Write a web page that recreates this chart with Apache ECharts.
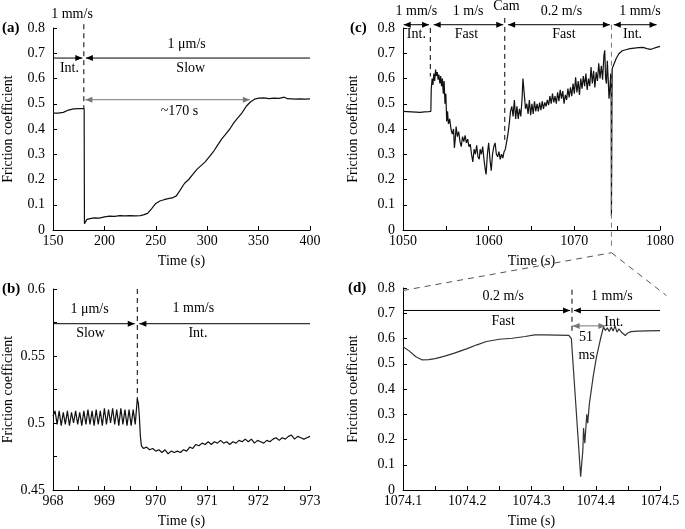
<!DOCTYPE html>
<html><head><meta charset="utf-8">
<script src="https://cdn.jsdelivr.net/npm/echarts@6/dist/echarts.min.js"></script>
<style>html,body{margin:0;padding:0;background:#fff}#c{width:685px;height:529px}</style>
</head><body><div id="c"></div>
<script>
// ---------- data ----------
const aTime  = [150,155,160,165,170,175,180.3,180.6,181,183,186,190,195,200,205,210,215,220,225,230,235,238,242,246,250,254,258,262,266,270,274,278,282,286,290,294,298,302,306,310,314,318,322,326,330,334,338,342,346,350,355,360,365,370,375,378,382,386,390,395,400];
const aValue = [0.463,0.463,0.466,0.475,0.480,0.481,0.481,0.025,0.028,0.042,0.045,0.048,0.047,0.052,0.055,0.054,0.057,0.056,0.057,0.056,0.057,0.060,0.066,0.085,0.105,0.115,0.120,0.124,0.127,0.135,0.160,0.185,0.200,0.220,0.240,0.255,0.270,0.290,0.310,0.335,0.360,0.380,0.400,0.425,0.445,0.465,0.490,0.507,0.518,0.522,0.523,0.520,0.522,0.521,0.526,0.520,0.519,0.518,0.519,0.518,0.519];

const bTime  = [968.00,968.04,968.08,968.12,968.16,968.20,968.24,968.28,968.32,968.36,968.40,968.44,968.48,968.52,968.56,968.60,968.64,968.68,968.72,968.76,968.80,968.84,968.88,968.92,968.96,969.00,969.04,969.08,969.12,969.16,969.20,969.24,969.28,969.32,969.36,969.40,969.44,969.48,969.52,969.56,969.60,969.64,969.66,969.68,969.70,969.72,969.76,969.82,969.88,969.94,970.00,970.06,970.12,970.18,970.24,970.30,970.36,970.42,970.48,970.54,970.60,970.66,970.72,970.78,970.84,970.90,970.96,971.02,971.08,971.14,971.20,971.26,971.32,971.38,971.44,971.50,971.56,971.62,971.68,971.74,971.80,971.86,971.92,971.98,972.04,972.10,972.16,972.22,972.28,972.34,972.40,972.46,972.52,972.58,972.64,972.70,972.76,972.82,972.88,972.94,973.00];
const bValue = [0.505,0.509,0.499,0.509,0.498,0.508,0.499,0.509,0.498,0.508,0.500,0.509,0.499,0.508,0.498,0.509,0.499,0.510,0.499,0.509,0.498,0.510,0.499,0.509,0.498,0.511,0.499,0.510,0.500,0.511,0.499,0.510,0.498,0.511,0.499,0.510,0.498,0.510,0.498,0.510,0.499,0.518,0.515,0.505,0.490,0.483,0.481,0.482,0.480,0.481,0.479,0.480,0.478,0.480,0.477,0.479,0.478,0.479,0.478,0.480,0.479,0.482,0.481,0.484,0.483,0.485,0.484,0.486,0.484,0.486,0.485,0.487,0.485,0.486,0.484,0.486,0.485,0.487,0.486,0.488,0.486,0.488,0.485,0.487,0.486,0.485,0.487,0.486,0.488,0.489,0.487,0.489,0.488,0.490,0.491,0.488,0.490,0.489,0.488,0.489,0.490];

const cTime  = [1050.0,1050.5,1051.0,1051.5,1052.0,1052.5,1053.0,1053.25,1053.3,1053.4,1053.5,1053.6,1053.7,1053.8,1053.9,1054.0,1054.1,1054.2,1054.3,1054.4,1054.5,1054.6,1054.7,1054.8,1054.9,1055.0,1055.1,1055.2,1055.3,1055.45,1055.6,1055.75,1055.9,1056.0,1056.1,1056.2,1056.35,1056.5,1056.65,1056.8,1056.95,1057.1,1057.25,1057.4,1057.55,1057.7,1057.85,1058.0,1058.15,1058.3,1058.45,1058.6,1058.75,1058.9,1059.0,1059.15,1059.3,1059.45,1059.6,1059.7,1059.85,1060.0,1060.15,1060.3,1060.45,1060.6,1060.75,1060.9,1061.05,1061.2,1061.35,1061.5,1061.65,1061.8,1061.95,1062.1,1062.25,1062.4,1062.55,1062.7,1062.85,1063.0,1063.15,1063.3,1063.45,1063.6,1063.75,1063.9,1064.0,1064.15,1064.3,1064.45,1064.6,1064.75,1064.9,1065.05,1065.2,1065.35,1065.5,1065.65,1065.8,1065.95,1066.1,1066.25,1066.4,1066.55,1066.7,1066.85,1067.0,1067.15,1067.3,1067.45,1067.6,1067.75,1067.9,1068.05,1068.2,1068.35,1068.5,1068.65,1068.8,1068.95,1069.1,1069.25,1069.4,1069.55,1069.7,1069.85,1070.0,1070.15,1070.3,1070.45,1070.6,1070.75,1070.9,1071.05,1071.2,1071.35,1071.5,1071.65,1071.8,1071.95,1072.1,1072.25,1072.4,1072.55,1072.7,1072.85,1073.0,1073.15,1073.3,1073.45,1073.55,1073.65,1073.75,1073.85,1073.95,1074.05,1074.15,1074.25,1074.3,1074.33,1074.36,1074.39,1074.42,1074.6,1074.9,1075.2,1075.6,1076.0,1076.5,1077.0,1077.5,1078.0,1078.3,1078.6,1078.9,1079.2,1079.5,1079.8,1080.0];
const cValue = [0.470,0.469,0.468,0.467,0.466,0.468,0.469,0.470,0.560,0.600,0.575,0.620,0.590,0.635,0.610,0.625,0.595,0.615,0.580,0.610,0.570,0.600,0.540,0.590,0.500,0.540,0.430,0.470,0.420,0.440,0.400,0.380,0.400,0.325,0.360,0.410,0.370,0.390,0.350,0.330,0.370,0.350,0.375,0.345,0.360,0.330,0.340,0.300,0.270,0.320,0.300,0.335,0.290,0.280,0.320,0.300,0.330,0.280,0.240,0.220,0.300,0.345,0.280,0.235,0.300,0.330,0.345,0.300,0.290,0.310,0.280,0.300,0.285,0.310,0.320,0.350,0.380,0.420,0.470,0.490,0.450,0.515,0.440,0.490,0.440,0.480,0.450,0.520,0.600,0.540,0.480,0.500,0.460,0.515,0.455,0.500,0.460,0.510,0.470,0.500,0.470,0.505,0.475,0.510,0.480,0.505,0.490,0.515,0.495,0.530,0.500,0.540,0.505,0.530,0.500,0.545,0.510,0.555,0.520,0.550,0.500,0.535,0.515,0.560,0.525,0.565,0.530,0.580,0.540,0.605,0.545,0.590,0.535,0.600,0.560,0.610,0.570,0.620,0.555,0.600,0.570,0.645,0.580,0.630,0.565,0.625,0.590,0.660,0.600,0.650,0.595,0.690,0.712,0.600,0.580,0.670,0.600,0.520,0.560,0.620,0.515,0.055,0.250,0.500,0.640,0.640,0.680,0.698,0.710,0.714,0.718,0.720,0.722,0.723,0.720,0.717,0.715,0.719,0.722,0.725,0.727];

const dTime  = [1074.100,1074.110,1074.120,1074.130,1074.140,1074.150,1074.165,1074.180,1074.200,1074.215,1074.230,1074.250,1074.270,1074.290,1074.305,1074.320,1074.340,1074.358,1074.362,1074.370,1074.3765,1074.380,1074.381,1074.383,1074.386,1074.3875,1074.390,1074.396,1074.401,1074.407,1074.412,1074.415,1074.418,1074.421,1074.424,1074.427,1074.430,1074.433,1074.436,1074.440,1074.443,1074.446,1074.450,1074.455,1074.465,1074.480,1074.500];
const dValue = [0.567,0.550,0.528,0.515,0.516,0.520,0.530,0.542,0.560,0.575,0.588,0.597,0.601,0.608,0.614,0.614,0.613,0.612,0.600,0.300,0.053,0.160,0.245,0.185,0.300,0.265,0.340,0.449,0.525,0.594,0.645,0.632,0.642,0.628,0.645,0.630,0.650,0.625,0.638,0.625,0.626,0.612,0.622,0.627,0.629,0.630,0.631];

// annotation texts: [panel, text, x, y]
const notes = [
  [0,"1 mm/s",168.5,0.853],[0,"Int.",166,0.641],[0,"1 μm/s",280,0.734],[0,"Slow",284,0.641],[0,"~170 s",273,0.469],
  [1,"1 μm/s",968.71,0.5845],[1,"Slow",968.73,0.5666],[1,"1 mm/s",970.73,0.5858],[1,"Int.",970.82,0.5666],
  [2,"1 mm/s",1051.56,0.866],[2,"1 m/s",1057.6,0.866],[2,"Cam",1062.08,0.886],[2,"0.2 m/s",1068.5,0.866],[2,"1 mm/s",1077.66,0.866],
  [2,"Int.",1051.56,0.774],[2,"Fast",1057.4,0.774],[2,"Fast",1068.78,0.774],[2,"Int.",1076.8,0.774],
  [3,"0.2 m/s",1074.256,0.767],[3,"Fast",1074.256,0.668],[3,"1 mm/s",1074.425,0.767],[3,"Int.",1074.428,0.664],[3,"51",1074.385,0.606],[3,"ms",1074.386,0.532]
];
// arrows: [panel, xFrom, xTo, y, heads, color]
const arrows = [
  [0,150,178.5,0.681,"end","#000"],[0,400,182,0.681,"end","#000"],[0,181.5,341.5,0.516,"both","#777"],
  [1,968,969.59,0.5741,"end","#000"],[1,973,969.68,0.5741,"end","#000"],
  [2,1050.08,1053.04,0.813,"both","#000"],[2,1053.58,1061.7,0.813,"both","#000"],[2,1062.27,1074.15,0.813,"both","#000"],[2,1074.6,1079.6,0.813,"both","#000"],
  [3,1074.1,1074.36,0.711,"end","#000"],[3,1074.5,1074.366,0.711,"end","#000"],[3,1074.364,1074.415,0.65,"both","#777"]
];
// dashed vertical markers: [panel, x, yTop, yBottom, color]
const vmarks = [
  [0,180,0.815,0.483,"#000"],
  [1,969.64,0.6,0.517,"#000"],
  [2,1053.19,0.8,0.608,"#000"],[2,1061.88,0.84,0.357,"#000"],[2,1074.33,0.813,-0.067,"#777"],
  [3,1074.363,0.793,0.615,"#000"]
];
const panelLabels = ["(a)","(b)","(c)","(d)"];

// ---------- chart ----------
const FONT = '"Liberation Serif","Times New Roman",serif';
const chart = echarts.init(document.getElementById('c'));
const grids = [
  {left:53, top:28, width:257, height:202},
  {left:53, top:289, width:257, height:201},
  {left:403, top:28, width:257, height:202},
  {left:403, top:288, width:257, height:202}
];
function xAx(g,min,max,interval,minor,dec){
  return {type:'value',gridIndex:g,min,max,interval,
    axisLine:{onZero:false,lineStyle:{color:'#000',width:1}},
    axisTick:{inside:true,length:4,lineStyle:{color:'#000'}},
    minorTick:{show:minor,splitNumber:2,length:4,lineStyle:{color:'#000'}},
    splitLine:{show:false},
    axisLabel:{color:'#000',fontFamily:FONT,fontSize:14,margin:4,hideOverlap:false,
      formatter:v=>Number(v).toFixed(dec)},
    name:'Time (s)',nameLocation:'middle',nameGap:24,
    nameTextStyle:{color:'#000',fontFamily:FONT,fontSize:14}};
}
function yAx(g,min,max,interval,minor,gap){
  return {type:'value',gridIndex:g,min,max,interval,
    axisLine:{show:true,onZero:false,lineStyle:{color:'#000',width:1}},
    axisTick:{show:true,inside:true,length:4,lineStyle:{color:'#000'}},
    minorTick:{show:minor,splitNumber:2,length:4,lineStyle:{color:'#000'}},
    splitLine:{show:false},
    axisLabel:{color:'#000',fontFamily:FONT,fontSize:14,margin:8},
    name:'Friction coefficient',nameLocation:'middle',nameGap:gap,
    nameTextStyle:{color:'#000',fontFamily:FONT,fontSize:14}};
}
function zip(t,v){return t.map((x,i)=>[x,v[i]]);}
function line(g,t,v,color){
  return {type:'line',xAxisIndex:g,yAxisIndex:g,data:zip(t,v),showSymbol:false,symbol:'none',
    lineStyle:{color:color,width:1.2},animation:false,silent:true,clip:false};
}
chart.setOption({
  animation:false,
  backgroundColor:'#fff',
  grid:grids,
  xAxis:[xAx(0,150,400,50,false,0),xAx(1,968,973,1,true,0),xAx(2,1050,1080,10,true,0),xAx(3,1074.1,1074.5,0.1,true,1)],
  yAxis:[yAx(0,0,0.8,0.1,false,38),yAx(1,0.45,0.6,0.05,true,38),yAx(2,0,0.8,0.1,false,43),yAx(3,0,0.8,0.1,false,43)],
  series:[line(0,aTime,aValue,'#111'),line(1,bTime,bValue,'#111'),line(2,cTime,cValue,'#111'),line(3,dTime,dValue,'#333')]
});

function P(g,x,y){return chart.convertToPixel({gridIndex:g},[x,y]);}
const els = [];
function txt(x,y,s,opt){
  opt = opt||{};
  els.push({type:'text',x:x,y:y,silent:true,z:10,style:{text:s,font:(opt.bold?'bold ':'')+(opt.size||14)+'px '+FONT,fill:'#000',
    align:opt.align||'center',verticalAlign:'middle',textAlign:opt.align||'center',textVerticalAlign:'middle'}});
}
function seg(x1,y1,x2,y2,color,dash){
  els.push({type:'line',silent:true,z:10,shape:{x1,y1,x2,y2},style:{stroke:color,lineWidth:1,lineDash:dash||null}});
}
function head(x,y,dir,color){
  els.push({type:'polygon',silent:true,z:10,shape:{points:[[x,y],[x-dir*7,y-3],[x-dir*7,y+3]]},style:{fill:color}});
}
notes.forEach(n=>{const p=P(n[0],n[2],n[3]); txt(p[0],p[1],n[1]);});
arrows.forEach(a=>{
  const p1=P(a[0],a[1],a[3]), p2=P(a[0],a[2],a[3]);
  seg(p1[0],p1[1],p2[0],p2[1],a[5]);
  const dir = p2[0]>p1[0]?1:-1;
  head(p2[0],p2[1],dir,a[5]);
  if(a[4]==='both') head(p1[0],p1[1],-dir,a[5]);
});
vmarks.forEach(m=>{
  const p1=P(m[0],m[1],m[2]), p2=P(m[0],m[1],m[3]);
  seg(p1[0],p1[1],p2[0],p2[1],m[4],[5,4]);
});
// zoom connector from panel (c) spike to panel (d)
const pk = P(2,1074.33,-0.09);
const dl = P(3,1074.1,0.79);
const dr = P(3,1074.51,0.77);
seg(dl[0],dl[1],pk[0],pk[1],'#555',[6,5]);
seg(pk[0],pk[1],dr[0],dr[1],'#555',[6,5]);
// panel letters
const letterX = [2,2,350,348];
grids.forEach((g,i)=>{ txt(letterX[i], g.top, panelLabels[i], {bold:true,size:15,align:'left'}); });
chart.setOption({graphic:els});
</script></body></html>
